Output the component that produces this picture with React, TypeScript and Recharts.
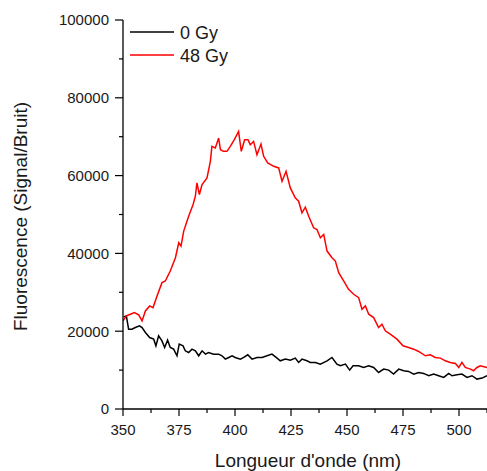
import { LineChart, Line, XAxis, YAxis, Legend, Label } from 'recharts';

// 48 Gy (red)
const redNm = [
  350.0, 351.5, 353.3, 355.1, 357.0, 358.5, 360.0, 361.9, 363.4, 365.2, 367.4, 368.9, 371.1, 373.4,
  374.9, 375.9, 377.1, 379.3, 381.3, 382.3, 383.0, 384.1, 385.3, 387.5, 389.0, 389.7, 391.2, 392.7,
  393.5, 394.9, 396.4, 397.9, 399.7, 401.6, 402.8, 404.3, 405.8, 406.8, 408.3, 409.8, 411.6, 412.8,
  414.6, 417.3, 419.5, 421.0, 422.8, 424.7, 426.9, 428.4, 429.9, 431.4, 432.9, 435.1, 436.6, 438.1,
  439.6, 441.1, 443.3, 444.8, 446.3, 448.5, 450.7, 453.0, 455.2, 456.7, 458.2, 459.7, 461.9, 464.1,
  465.6, 467.1, 469.3, 472.3, 475.0, 477.5, 479.8, 482.0, 485.0, 487.2, 489.4, 491.7, 493.9, 496.1,
  498.4, 499.9, 501.3, 502.8, 505.1, 506.5, 508.0, 509.5, 512.5,
];
const redVal = [
  22650, 23930, 24360, 24790, 24190, 22650, 25210, 26500, 26070, 29060, 32480, 32900, 35470, 38890,
  42740, 41880, 45730, 49570, 52560, 54700, 58120, 55130, 57690, 59400, 63680, 67520, 67090, 69660,
  66670, 66240, 66240, 67520, 69230, 71370, 66240, 69230, 69230, 67950, 68800, 65380, 68120, 64960,
  63250, 62390, 61970, 58550, 61110, 56840, 54270, 53420, 50430, 51880, 49570, 46580, 46150, 44020,
  44870, 40600, 38890, 38030, 35040, 32910, 30770, 29490, 28630, 25640, 26500, 24360, 23500, 20940,
  21790, 20090, 19230, 17950, 16240, 15810, 15380, 14790, 13680, 13930, 13250, 13080, 12390, 11970,
  11710, 10680, 11970, 10680, 10260, 9830, 10680, 11110, 10680,
];

// 0 Gy (black)
const blackNm = [
  350.3, 351.5, 352.5, 354.0, 355.5, 357.4, 358.5, 360.0, 361.9, 363.7, 364.7, 365.9, 367.4, 368.6,
  369.9, 371.1, 372.6, 374.1, 375.1, 376.8, 377.8, 379.3, 380.8, 382.3, 383.8, 385.3, 386.8, 388.2,
  390.5, 392.7, 394.2, 395.7, 397.2, 398.7, 400.1, 402.4, 403.9, 405.7, 407.6, 409.8, 412.1, 414.3,
  416.5, 418.8, 420.2, 422.5, 424.7, 426.9, 428.4, 429.9, 432.1, 433.6, 435.9, 438.1, 441.1, 443.3,
  445.5, 447.0, 449.3, 451.2, 452.7, 455.2, 457.4, 459.7, 461.9, 464.1, 466.4, 468.6, 470.8, 473.1,
  475.3, 477.5, 479.8, 482.0, 484.2, 486.5, 488.7, 490.9, 493.2, 495.4, 496.9, 499.1, 501.3, 503.6,
  505.8, 508.0, 510.3, 512.5,
];
const blackVal = [
  23680, 23930, 20510, 20510, 20940, 21370, 20940, 19660, 18380, 17950, 16240, 18800, 17520, 15810,
  17690, 15810, 15380, 13680, 16670, 16240, 14960, 14530, 15380, 14960, 13680, 14960, 14100, 14530,
  14100, 14100, 13680, 12820, 13250, 13680, 13250, 12820, 13250, 13930, 12820, 13250, 13250, 13680,
  14100, 13080, 12390, 12820, 12560, 13080, 11970, 12820, 12390, 11970, 11970, 11540, 12390, 13250,
  11540, 11110, 11540, 10000, 11110, 11110, 10680, 11110, 10680, 9400, 10260, 10000, 8970, 10260,
  9830, 9660, 8970, 9400, 9150, 8550, 8970, 8550, 8120, 9150, 8550, 8800, 8970, 8120,
  8550, 7690, 7950, 8550,
];

const xTicks = [350, 362.5, 375, 387.5, 400, 412.5, 425, 437.5, 450, 462.5, 475, 487.5, 500, 512.5];
const yTicks = [0, 10000, 20000, 30000, 40000, 50000, 60000, 70000, 80000, 90000, 100000];

const series = [
  { name: '0 Gy', color: '#000000' },
  { name: '48 Gy', color: '#ff0000' },
];

const redData = redNm.map((nm, i) => ({ nm, v: redVal[i] }));
const blackData = blackNm.map((nm, i) => ({ nm, v: blackVal[i] }));

const FONT = '"Liberation Sans", Arial, sans-serif';
const TEXT = '#1a1a1a';

const XTick = (props: any) => {
  const { x, y, payload } = props;
  const major = payload.value % 25 === 0;
  return (
    <g>
      <line x1={x} x2={x} y1={y} y2={y + (major ? 7 : 4)} stroke="#000" strokeWidth={1.2} />
      {major && (
        <text x={x} y={y + 26} textAnchor="middle" fontSize={15} fontFamily={FONT} fill={TEXT}>
          {payload.value}
        </text>
      )}
    </g>
  );
};

const YTick = (props: any) => {
  const { x, y, payload } = props;
  const major = payload.value % 20000 === 0;
  return (
    <g>
      <line x1={x} x2={x - (major ? 8 : 4)} y1={y} y2={y} stroke="#000" strokeWidth={1.2} />
      {major && (
        <text x={x - 14} y={y + 5.4} textAnchor="end" fontSize={15} fontFamily={FONT} fill={TEXT}>
          {payload.value}
        </text>
      )}
    </g>
  );
};

const LegendBox = () => (
  <svg width={120} height={50} style={{ overflow: 'visible' }}>
    {series.map((s, i) => (
      <g key={s.name}>
        <line x1={5} x2={49} y1={14 + i * 23} y2={14 + i * 23} stroke={s.color} strokeWidth={1.5} />
        <text x={55} y={14 + i * 23 + 6.5} fontSize={18} fontFamily={FONT} fill={TEXT}>
          {s.name}
        </text>
      </g>
    ))}
  </svg>
);

export default function App() {
  return (
    <div style={{ position: 'absolute', left: 0, top: 0 }}>
      <LineChart width={487} height={471} margin={{ top: 20, right: 0, bottom: 0, left: 0 }}>
        <XAxis
          dataKey="nm"
          type="number"
          domain={[350, 512.5]}
          ticks={xTicks}
          interval={0}
          allowDataOverflow
          height={62}
          tickSize={0}
          tickMargin={0}
          tickLine={false}
          tick={<XTick />}
          axisLine={{ stroke: '#000', strokeWidth: 1.3 }}
        >
          <Label
            value="Longueur d'onde (nm)"
            position="insideBottom"
            offset={4}
            dx={3}
            style={{ fontSize: 19, fontFamily: FONT, fill: TEXT }}
          />
        </XAxis>
        <YAxis
          dataKey="v"
          type="number"
          domain={[0, 100000]}
          ticks={yTicks}
          interval={0}
          width={123}
          tickSize={0}
          tickMargin={0}
          tickLine={false}
          tick={<YTick />}
          axisLine={{ stroke: '#000', strokeWidth: 1.3 }}
        >
          <Label
            value="Fluorescence (Signal/Bruit)"
            position="insideLeft"
            angle={-90}
            offset={20}
            dy={2}
            style={{ fontSize: 19, fontFamily: FONT, fill: TEXT, textAnchor: 'middle' }}
          />
        </YAxis>
        <Legend
          layout="vertical"
          align="center"
          verticalAlign="middle"
          content={<LegendBox />}
          wrapperStyle={{ left: 125, top: 18, width: 120, height: 50 }}
        />
        <Line
          data={blackData}
          dataKey="v"
          name="0 Gy"
          stroke="#000000"
          strokeWidth={1.5}
          dot={false}
          type="linear"
          isAnimationActive={false}
        />
        <Line
          data={redData}
          dataKey="v"
          name="48 Gy"
          stroke="#ff0000"
          strokeWidth={1.5}
          dot={false}
          type="linear"
          isAnimationActive={false}
        />
      </LineChart>
    </div>
  );
}
